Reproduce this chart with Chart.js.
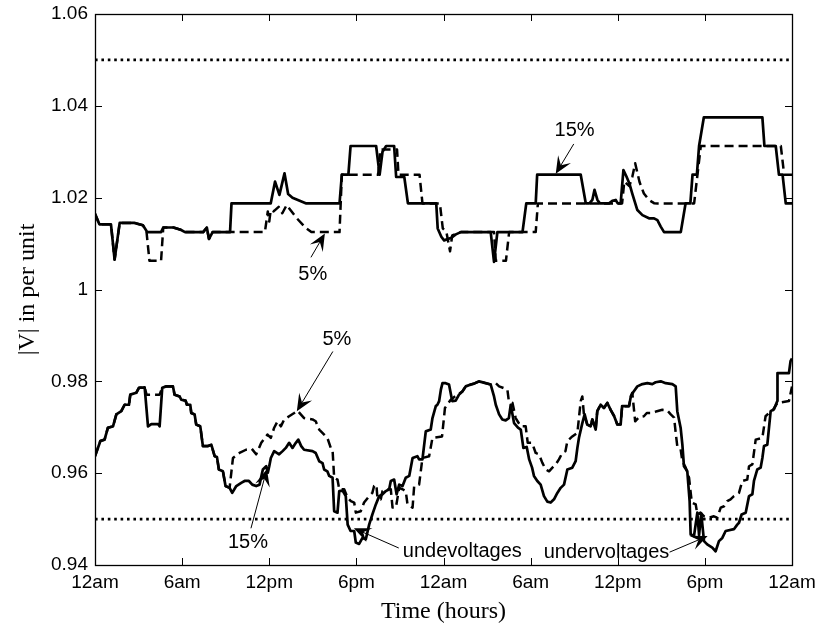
<!DOCTYPE html>
<html>
<head>
<meta charset="utf-8">
<title>Voltage profile</title>
<script src="https://cdn.jsdelivr.net/npm/chart.js@4.4.1/dist/chart.umd.min.js"></script>
<style>
  html, body { margin: 0; padding: 0; background: #fff; }
  #wrap { width: 822px; height: 635px; }
</style>
</head>
<body>
<div id="wrap"><canvas id="voltChart"></canvas></div>
<script>
// time axis: 48 hours, labelled every 6 hours
const tickHours = [0, 6, 12, 18, 24, 30, 36, 42, 48];
const tickLabels = ['12am', '6am', '12pm', '6pm', '12am', '6am', '12pm', '6pm', '12am'];
const voltTicks = [0.94, 0.96, 0.98, 1.00, 1.02, 1.04, 1.06];
const voltLabels = ['0.94', '0.96', '0.98', '1', '1.02', '1.04', '1.06'];

// voltage limits (per unit)
const limitHours = [0, 48];
const upperLimit = 1.05;
const lowerLimit = 0.95;

// upper bus, 15% case (solid)
const upper15Hours = [
  0, 0.3, 1.1, 1.35, 1.7, 2.7, 3.3, 3.6, 4.55, 4.7,
  5.4, 5.9, 6.2, 7.45, 7.7, 7.85, 8.1, 9.3, 9.4, 12.1,
  12.4, 12.7, 13.05, 13.3, 13.6, 14.55, 16.84, 17.0, 17.45, 17.6,
  19.36, 19.6, 19.8, 20.05, 20.6, 20.74, 21.3, 21.55, 23.5, 23.6,
  23.85, 24.04, 24.5, 24.85, 25.19, 27.25, 27.48, 27.71, 29.44, 29.7,
  30.35, 30.45, 33.45, 33.8, 34.05, 34.25, 34.4, 34.6, 34.77, 35.4,
  35.63, 35.86, 36.0, 36.2, 36.39, 36.6, 36.8, 37.0, 37.35, 37.7,
  38.15, 38.5, 38.73, 38.96, 39.19, 40.34, 40.67, 41.0, 41.15, 41.45,
  41.6, 41.93, 45.96, 46.1, 46.88, 47.1, 47.35, 47.57, 48
];
const upper15Volts = [
  1.0165, 1.0142, 1.0142, 1.0065, 1.0145, 1.0145, 1.0140, 1.0125, 1.0125, 1.0135,
  1.0135, 1.0130, 1.0125, 1.0125, 1.0135, 1.0110, 1.0125, 1.0125, 1.01875, 1.01875,
  1.0235, 1.0206, 1.0253, 1.0208, 1.0200, 1.01875, 1.01875, 1.025, 1.025, 1.03125,
  1.03125, 1.025, 1.0300, 1.03125, 1.03125, 1.0245, 1.0245, 1.01875, 1.01875, 1.0133,
  1.0115, 1.0107, 1.0112, 1.0120, 1.0125, 1.0125, 1.0060, 1.0125, 1.0125, 1.01875,
  1.01875, 1.025, 1.025, 1.01875, 1.01875, 1.0195, 1.0217, 1.0195, 1.01875, 1.01875,
  1.0193, 1.0195, 1.01875, 1.01875, 1.0260, 1.0246, 1.0231, 1.0209, 1.0173, 1.0162,
  1.0155, 1.0155, 1.0151, 1.0137, 1.0125, 1.0125, 1.01875, 1.01875, 1.025, 1.025,
  1.03125, 1.0375, 1.0375, 1.03125, 1.03125, 1.025, 1.025, 1.01875, 1.01875
];

// upper bus, 5% case (dashed)
const upper5Hours = [
  0, 0.3, 1.1, 1.35, 1.7, 2.7, 3.3, 3.55, 3.75, 4.55,
  4.7, 5.4, 5.9, 6.2, 7.45, 7.7, 7.85, 8.1, 11.7, 11.9,
  12.0, 12.1, 12.3, 12.65, 12.9, 13.2, 13.9, 14.55, 14.9, 16.84,
  17.0, 19.5, 19.65, 20.8, 20.9, 22.35, 22.55, 23.75, 23.95, 24.2,
  24.45, 24.6, 25.19, 27.48, 27.6, 28.3, 28.52, 30.35, 30.5, 36.3,
  36.45, 36.8, 37.0, 37.2, 37.5, 37.8, 38.15, 38.5, 38.73, 41.26,
  41.49, 41.72, 47.23, 47.46, 48
];
const upper5Volts = [
  1.0165, 1.0142, 1.0142, 1.0065, 1.0145, 1.0145, 1.0140, 1.0125, 1.00625, 1.00625,
  1.0135, 1.0135, 1.0130, 1.0125, 1.0125, 1.0135, 1.0110, 1.0125, 1.0125, 1.0170,
  1.0148, 1.0173, 1.0170, 1.0180, 1.0166, 1.0184, 1.0155, 1.0133, 1.0125, 1.0125,
  1.025, 1.025, 1.0305, 1.0305, 1.025, 1.025, 1.01875, 1.01875, 1.0133, 1.0125,
  1.0083, 1.0118, 1.0125, 1.0125, 1.00625, 1.00625, 1.0125, 1.0125, 1.01875, 1.01875,
  1.0235, 1.0225, 1.0245, 1.0275, 1.0234, 1.0209, 1.0195, 1.0188, 1.01875, 1.01875,
  1.025, 1.03125, 1.03125, 1.025, 1.025
];

// lower bus, 15% case (solid)
const lower15Hours = [
  0, 0.37, 0.66, 0.89, 1.24, 1.47, 1.81, 2.04, 2.34, 2.43,
  2.84, 3.03, 3.42, 3.65, 3.88, 4.34, 4.45, 4.63, 4.91, 5.37,
  5.48, 5.83, 5.94, 6.24, 6.33, 6.56, 6.63, 6.86, 6.97, 7.25,
  7.43, 7.78, 8.01, 8.24, 8.4, 8.53, 8.81, 8.99, 9.27, 9.45,
  9.73, 10.07, 10.3, 10.6, 10.83, 11.1, 11.33, 11.56, 11.79, 11.9,
  12.0, 12.11, 12.34, 12.68, 12.92, 13.14, 13.37, 13.6, 13.83, 14.0,
  14.2, 14.4, 14.98, 15.2, 15.44, 15.67, 15.78, 16.0, 16.13, 16.36,
  16.47, 16.7, 16.82, 17.05, 17.27, 17.4, 17.6, 17.85, 17.96, 18.19,
  18.42, 18.65, 18.88, 19.1, 19.34, 19.57, 19.8, 20.03, 20.26, 20.37,
  20.6, 20.77, 20.95, 21.18, 21.4, 21.64, 21.87, 22.2, 22.32, 22.55,
  22.78, 23.12, 23.24, 23.47, 23.58, 23.7, 23.82, 23.93, 24.15, 24.38,
  24.6, 24.84, 25.07, 25.3, 25.53, 25.88, 26.1, 26.45, 26.9, 27.25,
  27.48, 27.6, 27.83, 28.05, 28.28, 28.5, 28.63, 28.86, 29.13, 29.32,
  29.5, 29.73, 29.9, 30.1, 30.23, 30.46, 30.69, 30.92, 31.15, 31.38,
  31.61, 31.84, 32.07, 32.3, 32.53, 32.87, 33.1, 33.22, 33.33, 33.56,
  33.72, 33.9, 34.13, 34.25, 34.48, 34.59, 34.82, 35.05, 35.28, 35.51,
  35.74, 35.97, 36.2, 36.3, 36.78, 36.9, 37.1, 37.35, 37.7, 38.04,
  38.38, 38.61, 38.96, 39.3, 39.76, 39.99, 40.1, 40.33, 40.45, 40.56,
  40.79, 40.95, 41.02, 41.25, 41.48, 41.6, 41.75, 41.94, 42.16, 42.51,
  42.74, 42.97, 43.2, 43.43, 44.0, 44.23, 44.35, 44.53, 44.81, 45.04,
  45.27, 45.38, 45.61, 45.84, 45.96, 46.07, 46.3, 46.53, 46.76, 46.99,
  47.0, 47.79, 47.9, 48
];
const lower15Volts = [
  0.9637, 0.9670, 0.9673, 0.9699, 0.9702, 0.9728, 0.9735, 0.9749, 0.9749, 0.9771,
  0.9775, 0.9786, 0.9787, 0.9702, 0.9707, 0.9707, 0.9702, 0.9786, 0.9789, 0.9789,
  0.9771, 0.9767, 0.9760, 0.9758, 0.9749, 0.9749, 0.9731, 0.9728, 0.9706, 0.9702,
  0.9659, 0.9659, 0.9662, 0.9637, 0.9635, 0.9608, 0.9604, 0.9572, 0.9568, 0.9557,
  0.9572, 0.9579, 0.9583, 0.9583, 0.9575, 0.9572, 0.9575, 0.9608, 0.9615, 0.9601,
  0.9615, 0.9633, 0.9648, 0.9641, 0.9648, 0.9655, 0.9666, 0.9655, 0.9666, 0.9673,
  0.9659, 0.9651, 0.9648, 0.9644, 0.9626, 0.9622, 0.9608, 0.9604, 0.9594, 0.9590,
  0.9517, 0.9514, 0.9561, 0.9562, 0.9550, 0.9488, 0.9474, 0.9474, 0.9449, 0.9446,
  0.9459, 0.9456, 0.9488, 0.9510, 0.9532, 0.9550, 0.9554, 0.9561, 0.9565, 0.9583,
  0.9586, 0.9554, 0.9575, 0.9572, 0.9590, 0.9594, 0.9633, 0.9637, 0.9630, 0.9630,
  0.9691, 0.9695, 0.9720, 0.9746, 0.9749, 0.9757, 0.9782, 0.9796, 0.9796, 0.9793,
  0.9757, 0.9758, 0.9771, 0.9778, 0.9789, 0.9793, 0.9795, 0.9800, 0.9796, 0.9793,
  0.9767, 0.9749, 0.9728, 0.9717, 0.9715, 0.9720, 0.9749, 0.9709, 0.9699, 0.9695,
  0.9655, 0.9657, 0.9630, 0.9612, 0.9594, 0.9583, 0.9575, 0.9550, 0.9538, 0.9536,
  0.9543, 0.9557, 0.9568, 0.9575, 0.9608, 0.9612, 0.9626, 0.9655, 0.9677, 0.9709,
  0.9728, 0.9706, 0.9702, 0.9717, 0.9695, 0.9735, 0.9749, 0.9742, 0.9753, 0.9738,
  0.9725, 0.9706, 0.9706, 0.9746, 0.9746, 0.9767, 0.9778, 0.9789, 0.9794, 0.9796,
  0.9794, 0.9798, 0.9800, 0.9796, 0.9794, 0.9789, 0.9735, 0.9699, 0.9662, 0.9615,
  0.9604, 0.9539, 0.9467, 0.9463, 0.9514, 0.9465, 0.9512, 0.9452, 0.9445, 0.9438,
  0.9430, 0.9452, 0.9459, 0.9474, 0.9478, 0.9488, 0.9492, 0.9510, 0.9514, 0.9550,
  0.9554, 0.9583, 0.9608, 0.9612, 0.9633, 0.9659, 0.9662, 0.9735, 0.9739, 0.9757,
  0.9818, 0.9818, 0.9844, 0.9850
];

// lower bus, 5% case (dashed)
const lower5Hours = [
  0, 0.37, 0.66, 0.89, 1.24, 1.47, 1.81, 2.04, 2.34, 2.43,
  2.84, 3.03, 3.42, 3.55, 4.45, 4.63, 4.91, 5.37, 5.48, 5.83,
  5.94, 6.24, 6.33, 6.56, 6.63, 6.86, 6.97, 7.25, 7.43, 7.78,
  8.01, 8.24, 8.4, 8.53, 8.81, 8.99, 9.27, 9.5, 9.95, 10.4,
  10.8, 11.1, 11.45, 11.88, 12.11, 12.34, 12.57, 12.8, 13.03, 13.37,
  13.72, 13.95, 14.17, 14.4, 14.98, 15.2, 15.44, 15.78, 16.0, 16.24,
  16.36, 16.47, 16.7, 16.82, 17.16, 17.4, 17.62, 17.85, 17.96, 18.3,
  18.53, 18.88, 19.1, 19.22, 19.38, 19.45, 19.68, 19.8, 20.14, 20.37,
  20.49, 20.72, 20.95, 21.18, 21.4, 21.52, 21.87, 21.98, 22.32, 22.55,
  23.01, 23.24, 23.9, 24.1, 24.5, 24.96, 25.3, 25.53, 25.88, 26.1,
  26.45, 26.9, 27.25, 27.48, 27.6, 27.83, 28.17, 28.4, 28.5, 28.75,
  28.97, 29.32, 29.66, 29.8, 30.1, 30.35, 30.58, 30.8, 31.04, 31.27,
  31.5, 31.73, 31.95, 32.18, 32.4, 32.53, 32.87, 33.22, 33.45, 33.56,
  33.67, 33.9, 34.13, 34.25, 34.48, 34.59, 34.82, 35.05, 35.28, 35.51,
  35.74, 35.97, 36.2, 36.3, 36.78, 36.9, 37.0, 37.2, 37.47, 37.8,
  38.0, 38.38, 38.7, 39.07, 39.4, 39.65, 39.88, 39.99, 40.1, 40.33,
  40.45, 40.68, 40.91, 41.1, 41.37, 41.48, 41.7, 41.94, 42.28, 42.62,
  42.85, 43.09, 43.32, 43.54, 43.77, 44.0, 44.35, 44.58, 44.92, 45.04,
  45.27, 45.5, 45.96, 46.18, 46.41, 46.64, 46.99, 47.79, 48
];
const lower5Volts = [
  0.9637, 0.9670, 0.9673, 0.9699, 0.9702, 0.9728, 0.9735, 0.9749, 0.9749, 0.9771,
  0.9775, 0.9786, 0.9787, 0.9771, 0.9771, 0.9786, 0.9789, 0.9789, 0.9771, 0.9767,
  0.9760, 0.9758, 0.9749, 0.9749, 0.9731, 0.9728, 0.9706, 0.9702, 0.9659, 0.9659,
  0.9662, 0.9637, 0.9635, 0.9608, 0.9604, 0.9572, 0.9568, 0.9633, 0.9644, 0.9651,
  0.9653, 0.9641, 0.9666, 0.9684, 0.9677, 0.9699, 0.9713, 0.9702, 0.9717, 0.9724,
  0.9731, 0.9736, 0.9728, 0.9720, 0.9717, 0.9713, 0.9695, 0.9684, 0.9677, 0.9655,
  0.9651, 0.9590, 0.9586, 0.9565, 0.9565, 0.9546, 0.9539, 0.9536, 0.9514, 0.9517,
  0.9536, 0.9550, 0.9557, 0.9572, 0.9575, 0.9546, 0.9543, 0.9561, 0.9565, 0.9565,
  0.9525, 0.9525, 0.9568, 0.9565, 0.9561, 0.9532, 0.9525, 0.9572, 0.9575, 0.9633,
  0.9637, 0.9677, 0.9680, 0.9742, 0.9760, 0.9771, 0.9778, 0.9789, 0.9793, 0.9795,
  0.9800, 0.9796, 0.9793, 0.9793, 0.9796, 0.9789, 0.9785, 0.9782, 0.9757, 0.9753,
  0.9720, 0.9702, 0.9702, 0.9666, 0.9666, 0.9644, 0.9641, 0.9623, 0.9608, 0.9604,
  0.9612, 0.9619, 0.9630, 0.9644, 0.9648, 0.9670, 0.9680, 0.9688, 0.9757, 0.9767,
  0.9728, 0.9706, 0.9702, 0.9717, 0.9695, 0.9735, 0.9749, 0.9742, 0.9753, 0.9738,
  0.9725, 0.9706, 0.9706, 0.9746, 0.9746, 0.9767, 0.9775, 0.9713, 0.9722, 0.9724,
  0.9731, 0.9731, 0.9735, 0.9738, 0.9737, 0.9728, 0.9721, 0.9688, 0.9659, 0.9652,
  0.9626, 0.9612, 0.9590, 0.9536, 0.9532, 0.9510, 0.9514, 0.9506, 0.9503, 0.9506,
  0.9503, 0.9525, 0.9528, 0.9539, 0.9543, 0.9550, 0.9557, 0.9583, 0.9586, 0.9615,
  0.9619, 0.9673, 0.9677, 0.9724, 0.9731, 0.9735, 0.9753, 0.9757, 0.9789
];

// arrow notes in data units: label position, arrow tail, arrow tip
const notes = [
  { text: '15%', align: 'center', at: [33.03, 1.0346], from: [32.97, 1.0317], to: [31.73, 1.0252] },
  { text: '5%', align: 'center', at: [15.0, 1.0033], from: [14.87, 1.0070], to: [15.83, 1.0122] },
  { text: '5%', align: 'center', at: [16.66, 0.9891], from: [16.38, 0.9865], to: [13.9, 0.9735] },
  { text: '15%', align: 'center', at: [10.53, 0.9450], from: [10.74, 0.9480], to: [11.84, 0.9609] },
  { text: 'undevoltages', align: 'left', at: [21.2, 0.9430], from: [20.92, 0.9437], to: [17.83, 0.9480] },
  { text: 'undervoltages', align: 'left', at: [30.9, 0.9428], from: [39.57, 0.9428], to: [42.19, 0.9463] }
];

const SANS = '"Liberation Sans", Arial, sans-serif';
const SERIF = '"Liberation Serif", "Times New Roman", serif';

function pairs(hours, volts) {
  return hours.map((h, i) => ({ x: h, y: volts[i] }));
}

function series(label, hours, volts, dash, width) {
  return {
    label: label,
    data: pairs(hours, volts),
    borderColor: '#000',
    borderWidth: width,
    borderDash: dash,
    borderJoinStyle: 'round',
    pointRadius: 0,
    tension: 0,
    fill: false
  };
}

// box with inward ticks on all four sides
const framePlugin = {
  id: 'frame',
  afterDraw(chart) {
    const { ctx, chartArea: a, scales: { x, y } } = chart;
    const len = 7;
    ctx.save();
    ctx.strokeStyle = '#000';
    ctx.lineWidth = 1.3;
    ctx.strokeRect(a.left + 0.5, a.top + 0.5, a.right - a.left, a.bottom - a.top);
    ctx.lineWidth = 1;
    ctx.beginPath();
    x.ticks.forEach(t => {
      const px = Math.round(x.getPixelForValue(t.value)) + 0.5;
      ctx.moveTo(px, a.bottom); ctx.lineTo(px, a.bottom - len);
      ctx.moveTo(px, a.top); ctx.lineTo(px, a.top + len);
    });
    y.ticks.forEach(t => {
      const py = Math.round(y.getPixelForValue(t.value)) + 0.5;
      ctx.moveTo(a.left, py); ctx.lineTo(a.left + len, py);
      ctx.moveTo(a.right, py); ctx.lineTo(a.right - len, py);
    });
    ctx.stroke();
    ctx.restore();
  }
};

// text labels with filled arrowheads
const notesPlugin = {
  id: 'notes',
  afterDatasetsDraw(chart) {
    const { ctx, scales: { x, y } } = chart;
    ctx.save();
    ctx.fillStyle = '#000';
    ctx.strokeStyle = '#000';
    ctx.font = '20px ' + SANS;
    ctx.textBaseline = 'middle';
    notes.forEach(n => {
      const tx = x.getPixelForValue(n.at[0]), ty = y.getPixelForValue(n.at[1]);
      const x0 = x.getPixelForValue(n.from[0]), y0 = y.getPixelForValue(n.from[1]);
      const x1 = x.getPixelForValue(n.to[0]), y1 = y.getPixelForValue(n.to[1]);
      ctx.textAlign = n.align;
      ctx.fillText(n.text, tx, ty);

      const d = Math.hypot(x1 - x0, y1 - y0);
      const ux = (x1 - x0) / d, uy = (y1 - y0) / d;
      const nx = -uy, ny = ux;
      const L = 17, W = 7.5, back = 7;
      ctx.lineWidth = 1;
      ctx.beginPath();
      ctx.moveTo(x0, y0);
      ctx.lineTo(x1 - ux * (L - back), y1 - uy * (L - back));
      ctx.stroke();
      ctx.beginPath();
      ctx.moveTo(x1, y1);
      ctx.lineTo(x1 - ux * L + nx * W, y1 - uy * L + ny * W);
      ctx.lineTo(x1 - ux * (L - back), y1 - uy * (L - back));
      ctx.lineTo(x1 - ux * L - nx * W, y1 - uy * L - ny * W);
      ctx.closePath();
      ctx.fill();
    });
    ctx.restore();
  }
};

new Chart(document.getElementById('voltChart'), {
  type: 'line',
  data: {
    datasets: [
      series('Upper limit', limitHours, limitHours.map(() => upperLimit), [2.6, 3.8], 2.6),
      series('Lower limit', limitHours, limitHours.map(() => lowerLimit), [2.6, 3.8], 2.6),
      series('Upper 5%', upper5Hours, upper5Volts, [9, 5], 2.5),
      series('Upper 15%', upper15Hours, upper15Volts, [], 2.7),
      series('Lower 5%', lower5Hours, lower5Volts, [9, 5], 2.5),
      series('Lower 15%', lower15Hours, lower15Volts, [], 2.7)
    ]
  },
  options: {
    responsive: true,
    maintainAspectRatio: false,
    animation: false,
    devicePixelRatio: 1,
    layout: { padding: { top: 14, right: 30, bottom: 0, left: 0 } },
    plugins: {
      legend: { display: false },
      tooltip: { enabled: false }
    },
    scales: {
      x: {
        type: 'linear',
        min: 0,
        max: 48,
        afterBuildTicks: s => { s.ticks = tickHours.map(v => ({ value: v })); },
        afterFit: s => { s.height = 70; s.paddingLeft = 0; s.paddingRight = 0; },
        ticks: {
          autoSkip: false,
          maxRotation: 0,
          padding: 6,
          color: '#000',
          font: { family: SANS, size: 19 },
          callback: (v, i) => tickLabels[i]
        },
        grid: { display: false, drawTicks: false, tickLength: 0 },
        border: { display: false },
        title: {
          display: true,
          text: 'Time (hours)',
          color: '#000',
          font: { family: SERIF, size: 24 },
          padding: { top: 0, bottom: 9 }
        }
      },
      y: {
        min: 0.94,
        max: 1.06,
        afterBuildTicks: s => { s.ticks = voltTicks.map(v => ({ value: v })); },
        afterFit: s => { s.width = 95; s.paddingTop = 0; s.paddingBottom = 0; },
        ticks: {
          padding: 7,
          color: '#000',
          font: { family: SANS, size: 19 },
          callback: (v, i) => voltLabels[i]
        },
        grid: { display: false, drawTicks: false, tickLength: 0 },
        border: { display: false },
        title: {
          display: true,
          text: '|V| in per unit',
          color: '#000',
          font: { family: SERIF, size: 24 },
          padding: { top: 13, bottom: 0 }
        }
      }
    }
  },
  plugins: [framePlugin, notesPlugin]
});
</script>
</body>
</html>
